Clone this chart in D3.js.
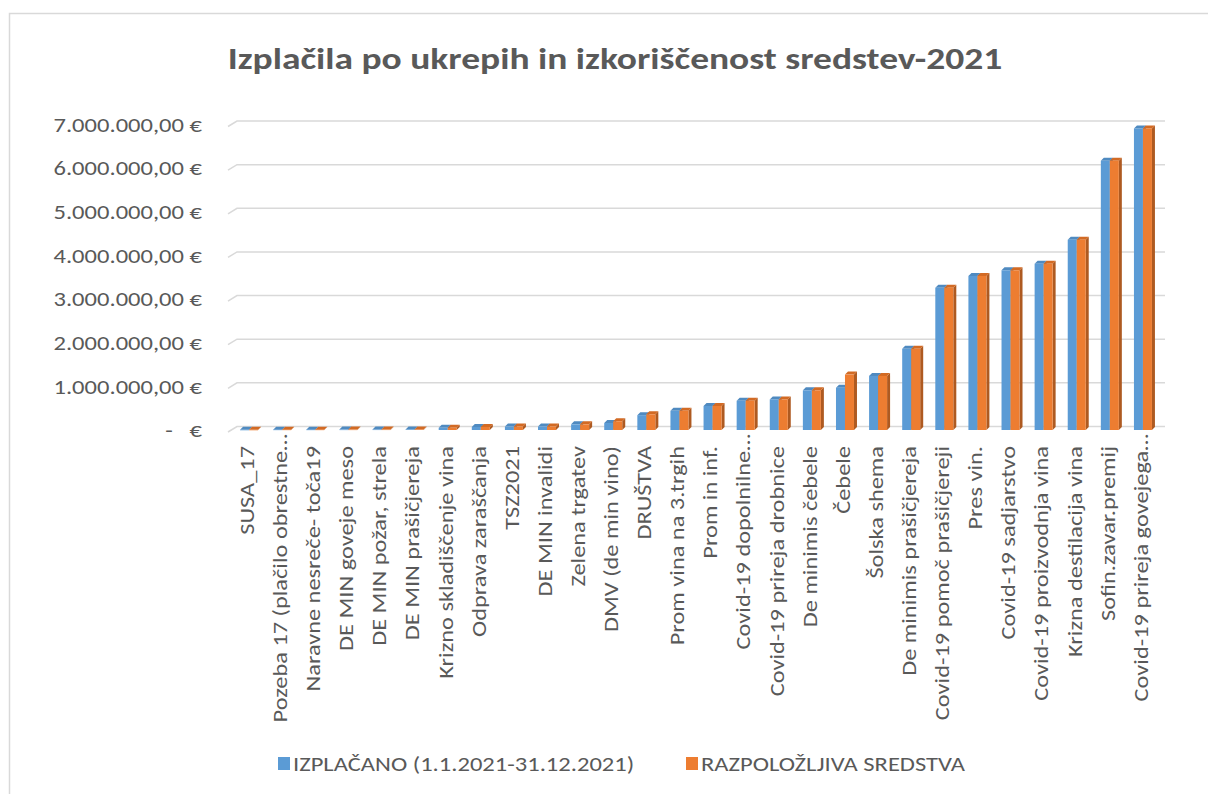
<!DOCTYPE html>
<html>
<head>
<meta charset="utf-8">
<script src="https://cdn.jsdelivr.net/npm/d3@7"></script>
<style>
  body { margin: 0; background: #fff; }
  svg { display: block; font-family: Carlito, Calibri, Lato, sans-serif; }
</style>
</head>
<body>
<div class="chart-wrapper"></div>
<script>
const categories = [
  'SUSA_17', 'Pozeba 17 (plačilo obrestne…', 'Naravne nesreče- toča19', 'DE MIN goveje meso',
  'DE MIN požar, strela', 'DE MIN prašičjereja', 'Krizno skladiščenje vina', 'Odprava zaraščanja',
  'TSZ2021', 'DE MIN invalidi', 'Zelena trgatev', 'DMV (de min vino)', 'DRUŠTVA',
  'Prom vina na 3.trgih', 'Prom in inf.', 'Covid-19 dopolnilne…', 'Covid-19 prireja drobnice',
  'De minimis čebele', 'Čebele', 'Šolska shema', 'De minimis prašičjereja',
  'Covid-19 pomoč prašičjereji', 'Pres vin.', 'Covid-19 sadjarstvo', 'Covid-19 proizvodnja vina',
  'Krizna destilacija vina', 'Sofin.zavar.premij', 'Covid-19 prireja govejega…'
]

const izplacano = [
  5000, 8000, 8000, 9000, 10000, 12000, 50000, 70000, 80000, 80000, 130000, 160000, 340000,
  440000, 550000, 670000, 700000, 910000, 970000, 1240000, 1860000, 3260000, 3530000,
  3660000, 3810000, 4360000, 6170000, 6910000
]

const razpolozljiva = [
  5000, 8000, 8000, 9000, 10000, 12000, 50000, 70000, 80000, 80000, 130000, 200000, 360000,
  440000, 550000, 670000, 700000, 910000, 1270000, 1240000, 1860000, 3260000, 3530000,
  3660000, 3810000, 4360000, 6170000, 6910000
]

const yTicks = [0, 1000000, 2000000, 3000000, 4000000, 5000000, 6000000, 7000000]
const seriesNames = ['IZPLAČANO (1.1.2021-31.12.2021)', 'RAZPOLOŽLJIVA SREDSTVA']

const width = 1208
const height = 794
const textColor = '#595959'
// the picture is a bit wider than tall, so text is stretched sideways
const stretch = 1.17

const colors = [
  { front: '#5b9bd5', top: '#4f8ac0', side: '#41719c' },
  { front: '#ed7d31', top: '#d26a24', side: '#ae5a21' }
]

const svg = d3.select('.chart-wrapper')
.append('svg')
.attr('width', width)
.attr('height', height)

// chart frame
svg.append('rect')
.attr('x', 9.5)
.attr('y', 13.5)
.attr('width', 1240)
.attr('height', 820)
.attr('fill', 'none')
.attr('stroke', '#d9d9d9')
.attr('stroke-width', 1.5)

svg.append('text')
.attr('transform', `translate(615,69) scale(1.25,1)`)
.attr('text-anchor', 'middle')
.attr('fill', textColor)
.attr('font-size', 30)
.attr('font-weight', 'bold')
.text('Izplačila po ukrepih in izkoriščenost sredstev-2021')

let x = d3.scaleBand()
.domain(categories)
.range([232.5, 1159.5])

let y = d3.scaleLinear()
.domain([0, 7000000])
.range([432, 126.5])

// gridlines with the little perspective corner on the left
const wallDx = 9, wallDy = 5.5
svg.append('g')
.selectAll('path')
.data(yTicks)
.enter()
.append('path')
.attr('d', d => `M228,${y(d)} L${228 + wallDx},${y(d) - wallDy} L1165,${y(d) - wallDy}`)
.attr('fill', 'none')
.attr('stroke', '#d9d9d9')
.attr('stroke-width', 1.5)

const fmt = d3.formatLocale({ decimal: ',', thousands: '.', grouping: [3], currency: ['', ' €'] })
.format(',.2f')

svg.append('g')
.selectAll('text')
.data(yTicks)
.enter()
.append('text')
.attr('transform', d => `translate(202,${y(d) - 2}) scale(${stretch},1)`)
.attr('dy', '0.35em')
.attr('text-anchor', 'end')
.attr('fill', textColor)
.attr('font-size', 21)
.attr('xml:space', 'preserve')
.text(d => d === 0 ? '-   €' : fmt(d) + ' €')

// 3D-ish bars
const barW = 9, depth = 3
const bars = []
categories.forEach((c, i) => {
  [izplacano[i], razpolozljiva[i]].forEach((v, s) => {
    bars.push({ cat: c, s: s, v: v })
  })
})

const barG = svg.append('g')
.selectAll('g')
.data(bars)
.enter()
.append('g')
.attr('transform', d => `translate(${x(d.cat) + x.bandwidth() / 2 - barW + d.s * barW},0)`)

const base = d => y(0) - 2
const topY = d => y(d.v) - 2

barG.append('path')
.attr('d', d => `M${barW},${topY(d)} L${barW + depth},${topY(d) - depth} L${barW + depth},${base(d) - depth} L${barW},${base(d)} Z`)
.attr('fill', d => colors[d.s].side)

barG.append('path')
.attr('d', d => `M0,${topY(d)} L${depth},${topY(d) - depth} L${barW + depth},${topY(d) - depth} L${barW},${topY(d)} Z`)
.attr('fill', d => colors[d.s].top)

barG.append('rect')
.attr('x', 0)
.attr('y', d => topY(d))
.attr('width', barW)
.attr('height', d => Math.max(0.5, base(d) - topY(d)))
.attr('fill', d => colors[d.s].front)

// category labels, rotated
svg.append('g')
.selectAll('text')
.data(categories)
.enter()
.append('text')
.attr('transform', d => `translate(${x(d) + x.bandwidth() / 2 - 2},${d.endsWith('…') ? 434 : 446}) rotate(-90) scale(1.25,1)`)
.attr('dy', '0.35em')
.attr('text-anchor', 'end')
.attr('fill', textColor)
.attr('font-size', 19.5)
.text(d => d)

// legend
const legendX = [278, 686]

const legend = svg.append('g')
.selectAll('g')
.data(seriesNames)
.enter()
.append('g')
.attr('transform', (d, i) => `translate(${legendX[i]},757)`)

legend.append('rect')
.attr('width', 12)
.attr('height', 13)
.attr('fill', (d, i) => colors[i].front)

legend.append('text')
.attr('transform', `translate(15,7) scale(${stretch},1)`)
.attr('dy', '0.35em')
.attr('fill', textColor)
.attr('font-size', 21)
.text(d => d)
</script>
</body>
</html>
